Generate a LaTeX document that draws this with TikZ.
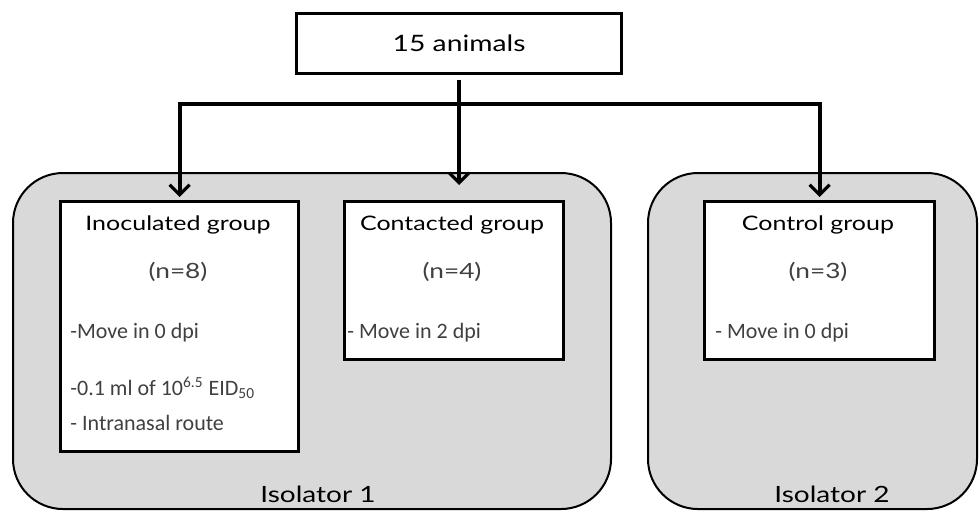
\documentclass[tikz,border=0pt]{standalone}
\usepackage{fontspec}
\setmainfont{Lato}[FakeStretch=1.25]
\newfontfamily\infofont{Carlito}
\usetikzlibrary{arrows.meta}
\tikzset{
  box/.style={draw, line width=1.6pt, fill=white, inner sep=0pt, anchor=north west},
  iso/.style={draw, line width=1pt, fill=black!15, rounded corners=25pt, inner sep=0pt, anchor=north west},
  flow/.style={line width=2pt, -{Straight Barb[length=5pt,width=10pt,line width=1.6pt]}},
  ttl/.style={font=\fontsize{10}{12}\selectfont},
  cnt/.style={font=\fontsize{10.5}{12}\selectfont, text=black!75},
  info/.style={font=\infofont\fontsize{11}{13}\selectfont, text=black!75, anchor=west, inner sep=0pt},
}
\begin{document}
\begin{tikzpicture}[x=0.5pt, y=-0.5pt]
\useasboundingbox (0,0) rectangle (979,511);
% isolators
\node[iso, minimum width=299pt, minimum height=168pt] (iso1) at (12,172) {};
\node[iso, minimum width=164.5pt, minimum height=168pt] (iso2) at (647,172) {};
\node[font=\fontsize{11.2}{13}\selectfont] (iso1-l) at (318,494) {Isolator 1};
\node[font=\fontsize{11.2}{13}\selectfont] (iso2-l) at (832,494) {Isolator 2};
% boxes
\node[box, minimum width=162.5pt, minimum height=30pt] (top) at (295,12) {};
\node[font=\fontsize{11.3}{13}\selectfont] (top-t) at (top.center) {15 animals};
\node[box, minimum width=119pt, minimum height=125pt] (inoc) at (59,200) {};
\node[box, minimum width=109.5pt, minimum height=79pt] (cont) at (343,200) {};
\node[box, minimum width=115pt, minimum height=79pt] (ctrl) at (703,200) {};
% arrows
\coordinate (split) at (457,104);
\draw[flow, shorten <=2.5pt, shorten >=7.5pt] (top.south) -- (top.south |- cont.north);
\draw[flow, shorten >=1.5pt] (top.south |- split) -| (inoc.north);
\draw[flow, shorten >=1.5pt] (top.south |- split) -| (ctrl.north);
% texts
\node[ttl] (inoc-t) at (178,225) {Inoculated group};
\node[ttl] (cont-t) at (452,225) {Contacted group};
\node[ttl] (ctrl-t) at (818,225) {Control group};
\foreach \x/\n/\nm in {178/8/inoc, 452/4/cont, 818/3/ctrl}
  \node[cnt] (\nm-n) at (\x,272) {(n=\n)};
\node[info] (inoc-a) at (70,333) {-Move in 0 dpi};
\node[info] (inoc-b) at (70,388) {-0.1 ml of 10\textsuperscript{6.5} EID\textsubscript{50}};
\node[info] (inoc-c) at (70,423) {- Intranasal route};
\node[info] (cont-a) at (347,333) {- Move in 2 dpi};
\node[info] (ctrl-a) at (715,333) {- Move in 0 dpi};
\end{tikzpicture}
\end{document}
